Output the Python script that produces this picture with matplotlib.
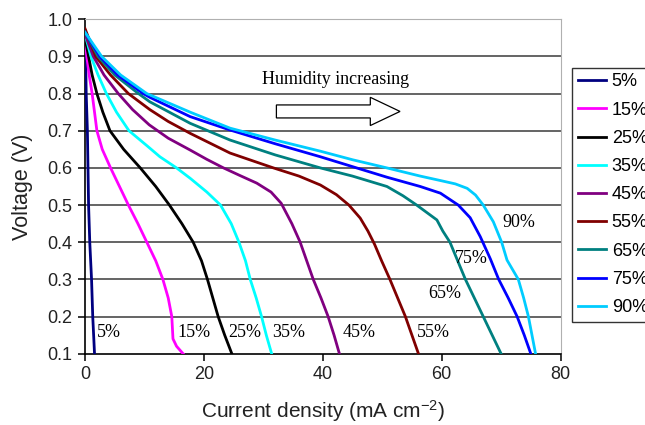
import matplotlib
matplotlib.use("Agg")
import matplotlib.pyplot as plt

plt.rcParams['mathtext.fontset'] = 'custom'
plt.rcParams['mathtext.rm'] = 'Liberation Sans'
plt.rcParams['mathtext.it'] = 'Liberation Sans:italic'

# polarization curves at different relative humidity
labels = ['5%', '15%', '25%', '35%', '45%', '55%', '65%', '75%', '90%']
colors = ['#000080', '#FF00FF', '#000000', '#00FFFF', '#800080',
          '#800000', '#008080', '#0000FF', '#00CCFF']

i_5 = [0, 0.1, 0.2, 0.4, 0.5, 0.6, 0.8, 1.1, 1.3, 1.6]
v_5 = [0.97, 0.9, 0.8, 0.7, 0.6, 0.5, 0.4, 0.3, 0.2, 0.1]

i_15 = [0, 0.3, 0.7, 1.2, 1.6, 2.0, 2.9, 4.3, 5.8, 7.3, 8.9, 10.4, 11.9,
        13.1, 14.0, 14.6, 14.8, 15.4, 16.5]
v_15 = [0.95, 0.9, 0.85, 0.8, 0.75, 0.7, 0.65, 0.6, 0.55, 0.5, 0.45, 0.4,
        0.35, 0.3, 0.25, 0.2, 0.14, 0.12, 0.1]

i_25 = [0, 0.6, 1.2, 2.0, 3.0, 4.2, 6.5, 9.3, 11.9, 14.2, 16.3, 18.2, 19.6,
        20.6, 21.5, 22.4, 23.5, 24.7]
v_25 = [0.95, 0.9, 0.85, 0.8, 0.75, 0.7, 0.65, 0.6, 0.55, 0.5, 0.45, 0.4,
        0.35, 0.3, 0.25, 0.2, 0.15, 0.1]

i_35 = [0, 1.0, 2.2, 3.6, 5.3, 7.4, 10.4, 12.6, 15.4, 17.7, 20.5, 22.8,
        24.6, 25.9, 27.0, 27.8, 28.8, 29.7, 30.5, 31.4]
v_35 = [0.96, 0.9, 0.85, 0.8, 0.75, 0.7, 0.66, 0.63, 0.6, 0.572, 0.535, 0.5,
        0.45, 0.4, 0.35, 0.3, 0.25, 0.2, 0.15, 0.1]

i_45 = [0, 1.4, 3.2, 5.6, 8.0, 10.8, 14.0, 17.7, 20.5, 23.3, 26.0, 28.9,
        31.3, 33.0, 34.8, 36.2, 37.3, 38.4, 39.7, 40.9, 41.9, 42.8]
v_45 = [0.96, 0.9, 0.85, 0.8, 0.757, 0.716, 0.68, 0.648, 0.623, 0.6, 0.58,
        0.559, 0.535, 0.505, 0.45, 0.4, 0.35, 0.3, 0.25, 0.2, 0.15, 0.1]

i_55 = [0, 1.8, 4.3, 7.3, 10.9, 14.0, 17.7, 24.4, 31.7, 36.0, 39.6, 42.3,
        44.4, 46.3, 47.6, 48.7, 49.9, 51.3, 52.6, 53.9, 55.0, 56.1]
v_55 = [0.975, 0.9, 0.85, 0.8, 0.757, 0.725, 0.693, 0.64, 0.6, 0.578,
        0.554, 0.528, 0.5, 0.465, 0.43, 0.395, 0.35, 0.3, 0.25, 0.2, 0.15,
        0.1]

i_65 = [0, 2.2, 5.0, 9.0, 10.9, 17.7, 24.4, 32.0, 39.6, 45.0, 50.8, 53.5,
        55.8, 57.5, 59.2, 60.2, 61.4, 62.7, 64.0, 65.5, 67.0, 68.5, 70.0]
v_65 = [0.965, 0.9, 0.85, 0.8, 0.778, 0.72, 0.675, 0.635, 0.6, 0.578, 0.55,
        0.525, 0.5, 0.48, 0.46, 0.43, 0.4, 0.35, 0.3, 0.25, 0.2, 0.15, 0.1]

i_75 = [0, 2.5, 5.5, 9.8, 10.9, 17.7, 24.4, 32.0, 39.6, 45.7, 50.8, 56.4,
        59.8, 62.8, 64.8, 66.5, 68.2, 69.6, 71.2, 72.7, 73.9, 75.0]
v_75 = [0.965, 0.9, 0.85, 0.8, 0.79, 0.738, 0.702, 0.665, 0.63, 0.6, 0.575,
        0.55, 0.532, 0.5, 0.466, 0.415, 0.355, 0.3, 0.25, 0.2, 0.15, 0.1]

i_90 = [0, 2.8, 6.0, 10.4, 17.7, 24.4, 32.0, 39.6, 45.0, 50.8, 56.4, 59.8,
        62.3, 64.3, 65.7, 67.0, 68.7, 70.1, 71.0, 72.9, 73.8, 74.6, 75.2, 75.8]
v_90 = [0.965, 0.9, 0.85, 0.8, 0.75, 0.707, 0.675, 0.645, 0.622, 0.6, 0.578,
        0.566, 0.557, 0.545, 0.527, 0.5, 0.455, 0.4, 0.352, 0.3, 0.25, 0.2,
        0.15, 0.1]

currents = [i_5, i_15, i_25, i_35, i_45, i_55, i_65, i_75, i_90]
voltages = [v_5, v_15, v_25, v_35, v_45, v_55, v_65, v_75, v_90]

# where each curve gets its humidity tag (left edge, middle of text)
tag_x = [2.0, 15.5, 24.1, 31.5, 43.3, 55.9, 57.8, 62.3, 70.2]
tag_y = [0.156, 0.156, 0.156, 0.156, 0.156, 0.156, 0.263, 0.357, 0.452]


def polarization_plot():
    """
    draws voltage against current density for every humidity level
    """
    fig = plt.figure(figsize=(6.45, 4.25), dpi=100)
    ax = fig.add_axes([0.1318, 0.1678, 0.7372, 0.7868])

    sans = 'Liberation Sans'
    serif = 'Liberation Serif'

    # horizontal grid every 0.1 V
    for v in [0.2, 0.3, 0.4, 0.5, 0.6, 0.7, 0.8, 0.9]:
        ax.axhline(v, color='#3a3a3a', lw=1.1, zorder=1)

    for cur, volt, lab, col in zip(currents, voltages, labels, colors):
        ax.plot(cur, volt, color=col, lw=2, label=lab, zorder=3,
                solid_joinstyle='round')

    for tx, ty, lab in zip(tag_x, tag_y, labels):
        ax.text(tx, ty, lab, family=serif, fontsize=13, ha='left',
                va='center', zorder=4)

    # humidity arrow
    ax.text(29.7, 0.837, 'Humidity increasing', family=serif, fontsize=13,
            ha='left', va='center')
    ax.arrow(32.2, 0.752, 20.8, 0, width=0.035, head_width=0.076,
             head_length=5, length_includes_head=True, fc='white',
             ec='black', lw=0.9, zorder=4)

    ax.set_xlim(0, 80)
    ax.set_ylim(0.1, 1.0)
    ax.set_xticks([0, 20, 40, 60, 80])
    ax.set_yticks([0.1, 0.2, 0.3, 0.4, 0.5, 0.6, 0.7, 0.8, 0.9, 1.0])
    ax.set_yticklabels(['%.1f' % t for t in ax.get_yticks()])
    ax.tick_params(direction='out', length=5, width=1.1, colors='black',
                   labelsize=13, pad=4)
    for lab in ax.get_xticklabels() + ax.get_yticklabels():
        lab.set_family(sans)
        lab.set_color('#222222')

    ax.spines['left'].set_color('black')
    ax.spines['bottom'].set_color('black')
    ax.spines['left'].set_linewidth(1.2)
    ax.spines['bottom'].set_linewidth(1.2)
    ax.spines['top'].set_color('#b0b0b0')
    ax.spines['right'].set_color('#b0b0b0')

    ax.set_xlabel('Current density (mA cm$^{-2}$)', family=sans,
                  fontsize=15, color='#222222', labelpad=11)
    ax.set_ylabel('Voltage (V)', family=sans, fontsize=15.5,
                  color='#222222', labelpad=10)

    leg = fig.legend(loc='upper left', bbox_to_anchor=(0.8864, 0.8407),
                     borderaxespad=0, prop={'family': sans, 'size': 13},
                     frameon=True, fancybox=False, handlelength=1.6,
                     handletextpad=0.3, labelspacing=0.62, borderpad=0.32)
    leg.get_frame().set_edgecolor('black')
    leg.get_frame().set_linewidth(1.0)

    fig.savefig('out.png', dpi=100)


if __name__ == '__main__':
    polarization_plot()
